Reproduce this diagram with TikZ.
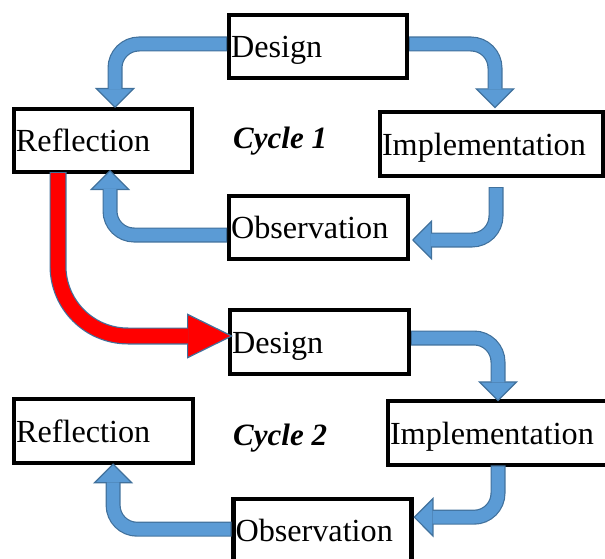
\documentclass[tikz,border=0pt]{standalone}
\usepackage{fontspec}
\setmainfont{Liberation Serif}
\usetikzlibrary{arrows.meta}
\definecolor{arrowblue}{HTML}{5B9BD5}
\definecolor{arrowedge}{HTML}{41719C}
\definecolor{arrowred}{HTML}{FF0000}
\tikzset{
  stagebox/.style n args={2}{draw, line width=4.2pt, fill=white, inner sep=0pt,
    inner xsep=2pt, outer sep=0pt, text width=#1, minimum height=#2,
    align=left, text height=28pt, text depth=6pt,
    font=\fontsize{32.2}{36}\selectfont},
  cyclelabel/.style={anchor=base west, inner sep=0pt,
    font=\fontsize{31}{36}\selectfont\bfseries\itshape},
}
% #1 fill, #2 outer width, #3 inner width, #4 radius, #5 head length,
% #6 head width, #7 inner shorten, #8 path
\newcommand{\flowarrow}[8]{%
  \draw[arrowedge, line width=#2, rounded corners=#4, shorten <=2pt,
    -{Triangle[length=#5, width=#6, fill=#1, line width=1.2pt]}] #8;
  \draw[#1, line width=#3, rounded corners=#4, shorten <=3.2pt,
    shorten >=#7] #8;
}
\begin{document}
\begin{tikzpicture}[x=1pt, y=-1pt]
\useasboundingbox (0,0) rectangle (605,559);

% cycle 1
\node[stagebox={174pt}{63pt}] (d1) at (318,46.5) {Design};
\node[stagebox={174pt}{63pt}] (r1) at (103,140.5) {Reflection};
\node[stagebox={219pt}{64pt}] (i1) at (491.5,144) {Implementation};
\node[stagebox={175pt}{63pt}] (o1) at (318.5,227.5) {Observation};
\node[cyclelabel] (c1) at (233,149) {Cycle 1};

% cycle 2
\node[stagebox={175pt}{64pt}] (d2) at (319.5,342) {Design};
\node[stagebox={175pt}{64pt}] (r2) at (103.6,431.3) {Reflection};
\node[stagebox={219pt}{64pt}] (i2) at (499.5,433.3) {Implementation};
\node[stagebox={174pt}{63pt}] (o2) at (322.5,530.2) {Observation};
\node[cyclelabel] (c2) at (233,445) {Cycle 2};

% arrows cycle 1
\flowarrow{arrowblue}{15pt}{12.6pt}{24pt}{20pt}{40pt}{19pt}
  {([yshift=2.5pt]d1.west) -| ([xshift=12pt,yshift=1pt]r1.north)}
\flowarrow{arrowblue}{15pt}{12.6pt}{24pt}{20pt}{40pt}{19pt}
  {([yshift=2.5pt]d1.east) -| ([xshift=3.5pt,yshift=3.7pt]i1.north)}
\flowarrow{arrowblue}{15pt}{12.6pt}{24pt}{20pt}{40pt}{19pt}
  {([xshift=4.5pt,yshift=-9pt]i1.south) |- ([xshift=4pt,yshift=-12.5pt]o1.east)}
\flowarrow{arrowblue}{15pt}{12.6pt}{24pt}{20pt}{40pt}{19pt}
  {([yshift=-7.5pt]o1.west) -| ([xshift=7pt,yshift=2pt]r1.south)}

% transition arrow
\flowarrow{arrowred}{17pt}{14.6pt}{70pt}{46pt}{45pt}{45pt}
  {([xshift=-45pt,yshift=2pt]r1.south) |- ([xshift=3pt,yshift=6pt]d2.west)}

% arrows cycle 2
\flowarrow{arrowblue}{15pt}{12.6pt}{24pt}{20pt}{40pt}{19pt}
  {([yshift=4pt]d2.east) -| ([xshift=-1.5pt]i2.north)}
\flowarrow{arrowblue}{15pt}{12.6pt}{24pt}{20pt}{40pt}{19pt}
  {([xshift=-1.5pt,yshift=2pt]i2.south) |- ([xshift=2pt,yshift=13pt]o2.east)}
\flowarrow{arrowblue}{15pt}{12.6pt}{24pt}{20pt}{40pt}{19pt}
  {([yshift=1pt]o2.west) -| ([xshift=9.5pt]r2.south)}
\end{tikzpicture}
\end{document}
